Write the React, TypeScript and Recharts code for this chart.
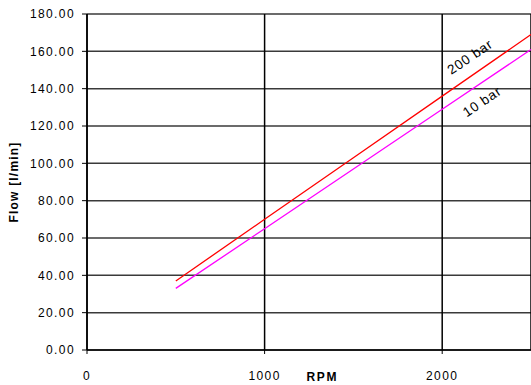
import React from 'react';
import { LineChart, Line, XAxis, YAxis, CartesianGrid, ReferenceDot } from 'recharts';

// rpm samples and flow readings for both pressures
const rpm = [500, 1000, 1500, 2000, 2500];
const flow200bar = [37, 70, 103, 136, 169];
const flow10bar = [33, 65, 97, 129, 161];

const xTicks = [0, 1000, 2000];
const yTicks = [0, 20, 40, 60, 80, 100, 120, 140, 160, 180];

// where the curve names sit (data coords)
const label200 = { x: 2157, y: 157, text: '200 bar' };
const label10 = { x: 2225, y: 133, text: '10 bar' };

const FONT = '"Liberation Sans", Arial, sans-serif';

const data = rpm.map((r, i) => ({ rpm: r, hi: flow200bar[i], lo: flow10bar[i] }));

const RotatedText = (text: string) => (props: any) => {
  const vb = props.viewBox || {};
  const cx = (vb.x ?? 0) + (vb.width ?? 0) / 2;
  const cy = (vb.y ?? 0) + (vb.height ?? 0) / 2;
  return (
    <text x={cx} y={cy} textAnchor="middle" dominantBaseline="central"
      transform={`rotate(-34 ${cx} ${cy})`} fontFamily={FONT} fontSize={13.5} letterSpacing={0.8} fill="#000">
      {text}
    </text>
  );
};

const XTitle = (props: any) => {
  const vb = props.viewBox;
  const x = vb.x + vb.width * 0.53;
  return (
    <text x={x} y={377} textAnchor="middle" dominantBaseline="central" fontFamily={FONT}
      fontWeight="bold" fontSize={12} letterSpacing={1.6} fill="#000">RPM</text>
  );
};

const YTitle = (props: any) => {
  const vb = props.viewBox;
  const cy = vb.y + vb.height / 2;
  return (
    <text x={14} y={cy} textAnchor="middle" dominantBaseline="central" transform={`rotate(-90 14 ${cy})`}
      fontFamily={FONT} fontWeight="bold" fontSize={12} letterSpacing={1.2} fill="#000">Flow [l/min]</text>
  );
};

export default function App() {
  const tick = { fontFamily: FONT, fontSize: 12, fill: '#000', letterSpacing: 1.4 };
  return (
    <div style={{ width: 531, height: 385 }}>
      <style>{`body{margin:0}`}</style>
      <LineChart width={531} height={385} data={data} margin={{ top: 14, right: 0, left: 0, bottom: 0 }}>
        <CartesianGrid stroke="#3a3a3a" strokeWidth={1.5} vertical={false} />
        <CartesianGrid stroke="#000" strokeWidth={1.5} horizontal={false} />
        <XAxis dataKey="rpm" type="number" domain={[0, 2500]} ticks={xTicks} height={35}
          axisLine={{ stroke: '#000', strokeWidth: 1.5 }} tickLine={{ stroke: '#000' }}
          tickSize={4} tickMargin={17} tick={tick} label={<XTitle />} />
        <YAxis type="number" domain={[0, 180]} ticks={yTicks} width={87} interval={0}
          tickFormatter={(v: number) => v.toFixed(2)}
          axisLine={{ stroke: '#000', strokeWidth: 1.5 }} tickLine={{ stroke: '#000' }}
          tickSize={5} tickMargin={7} tick={tick} label={<YTitle />} />
        <Line type="linear" dataKey="hi" stroke="#ff0000" strokeWidth={1.3} dot={false} isAnimationActive={false} />
        <Line type="linear" dataKey="lo" stroke="#ff00ff" strokeWidth={1.3} dot={false} isAnimationActive={false} />
        <ReferenceDot x={label200.x} y={label200.y} r={1} fill="none" stroke="none" label={RotatedText(label200.text)} />
        <ReferenceDot x={label10.x} y={label10.y} r={1} fill="none" stroke="none" label={RotatedText(label10.text)} />
      </LineChart>
    </div>
  );
}
